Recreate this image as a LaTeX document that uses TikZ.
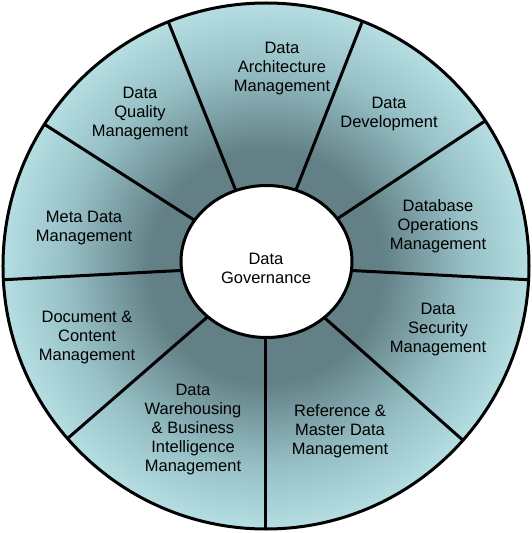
\documentclass[tikz,border=0pt]{standalone}
\usepackage{fontspec}
\setmainfont{Liberation Sans}
\usepackage{tikz}
\usetikzlibrary{shapes.geometric, positioning}

\definecolor{wheeldark}{RGB}{98,128,134}
\definecolor{wheelmid}{RGB}{150,192,197}
\definecolor{wheellight}{RGB}{180,222,226}
\pgfdeclareradialshading{wheelshade}{\pgfpoint{0bp}{0bp}}{color(0bp)=(wheeldark); color(11bp)=(wheeldark); color(19bp)=(wheelmid); color(25bp)=(wheellight); color(50bp)=(wheellight)}

\begin{document}
\begin{tikzpicture}[x=1pt, y=1pt, line width=3pt,
    area/.style={align=center, inner sep=0pt, font=\fontsize{16.5}{19}\selectfont}]
    \useasboundingbox (-266,-267) rectangle (266,266);

    \node[draw, circle, minimum size=526pt, inner sep=0pt, shading=wheelshade] (wheel) at (0,0) {};
    \foreach \a in {33.5, 68.5, 111.8, 147.4, 183, 221, 270, 318.5, 357}
        \draw (wheel.center) -- (\a:263);
    \node[draw, ellipse, fill=white, minimum width=171pt, minimum height=152pt] (gov) at (0.5,4.5) {};
    \node[area] (govtext) at (0,-2) {Data\\Governance};

    \node[area] (arch)     at (16,197)   {Data\\Architecture\\Management};
    \node[area] (dev)      at (123,152)  {Data\\Development};
    \node[area] (dbops)    at (172,40)   {Database\\Operations\\Management};
    \node[area] (security) at (172,-64)  {Data\\Security\\Management};
    \node[area] (refmaster) at (74,-165) {Reference \&\\Master Data\\Management};
    \node[area] (warehouse) at (-73,-164) {Data\\Warehousing\\\& Business\\Intelligence\\Management};
    \node[area] (document) at (-179,-72) {Document \&\\Content\\Management};
    \node[area] (meta)     at (-182,38)  {Meta Data\\Management};
    \node[area] (quality)  at (-126,152) {Data\\Quality\\Management};
\end{tikzpicture}
\end{document}
